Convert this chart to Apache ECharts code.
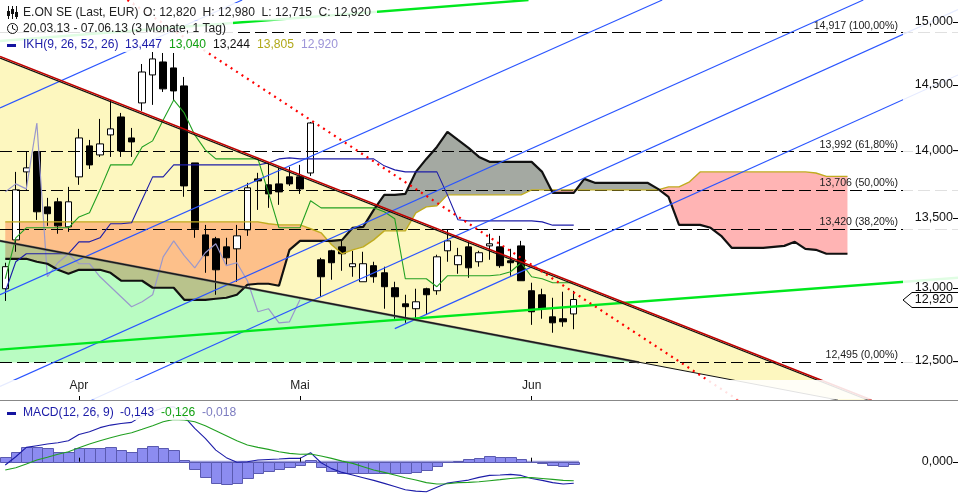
<!DOCTYPE html>
<html><head><meta charset="utf-8">
<style>html,body{margin:0;padding:0;background:#fff}#c{width:958px;height:500px}</style>
<script src="https://cdn.jsdelivr.net/npm/echarts@6/dist/echarts.min.js"></script>
</head><body><div id="c"></div>
<script>
// ---- data ----
const opens  = [12995,13341,13838,13988,13580,13617,13435,13801,14033,13965,14116,14253,14093,14361,14579,14681,14634,14493,13905,13377,13349,13291,13277,13413,13786,13742,13749,13801,13801,13830,13199,13263,13291,13150,13044,13157,13107,13002,12890,12856,12995,12981,13263,13164,13291,13185,13298,13291,13192,13298,12981,12953,12800,12787,12820];
const closes = [13150,13705,13868,13544,13530,13442,13617,14093,13890,14048,14162,13995,14063,14602,14705,14470,14454,13734,13421,13228,13128,13213,13370,13720,13771,13675,13690,13749,13712,14207,13079,13178,13242,13171,13171,13079,13009,12939,12870,12904,12953,13220,13334,13228,13142,13249,13313,13157,13178,13051,12835,12856,12759,12766,12920];
const lows   = [12910,13256,13705,13485,13442,13385,13399,13742,13860,13950,13950,13950,13950,14300,14346,14446,14384,13654,13356,13107,12953,13164,13044,13370,13558,13573,13595,13734,13675,13808,12939,13058,13121,13079,13044,13037,12856,12787,12759,12780,12814,12953,13185,13100,13072,13150,13199,13142,13086,13051,12745,12787,12691,12732,12715];
const highs  = [13178,13838,13988,13988,13646,13646,13727,14162,14078,14238,14384,14284,14169,14665,14760,14752,14752,14563,13905,13449,13363,13356,13449,13757,13831,13905,13868,13875,13890,14215,13213,13270,13341,13263,13256,13185,13150,13044,12953,12995,13002,13235,13413,13284,13327,13263,13385,13370,13277,13334,13037,12995,12932,12974,12980];
const tenkan = [12974,13185,13242,13242,13242,13242,13242,13327,13327,13356,13457,13457,13464,13632,13801,13801,13890,13890,13890,13890,13890,13890,13890,13890,13890,13905,13935,13943,13935,13935,13935,13935,13935,13935,13935,13935,13883,13853,13838,13838,13838,13838,13668,13486,13478,13478,13478,13478,13478,13478,13478,13471,13447,13447,13447];
const kijun  = [13065,13356,13428,13428,13428,13428,13428,13507,13537,13705,13890,13890,13890,14025,14071,14230,14384,14284,14116,14003,13935,13935,13935,13935,13935,13683,13428,13428,13428,13625,13573,13573,13573,13573,13573,13573,13544,13493,13065,13065,13065,13009,13086,13086,13086,13086,13086,13093,13114,13178,13079,13065,13037,13037,13037];
const chikou = [13690,13749,13712,14207,13079,13178,13242,13171,13171,13079,13009,12939,12870,12904,12953,13220,13334,13228,13142,13249,13313,13157,13178,13051,12835,12856,12759,12766,12920];
const senkouA = [13471,13471,13471,13471,13471,13471,13471,13471,13471,13471,13471,13471,13471,13471,13471,13471,13471,13471,13471,13471,13471,13471,13471,13471,13471,13457,13449,13449,13449,13421,13392,13306,13242,13270,13291,13341,13406,13406,13406,13537,13580,13588,13668,13668,13668,13668,13668,13668,13668,13668,13705,13705,13705,13705,13705,13705,13705,13705,13705,13705,13705,13705,13705,13727,13727,13764,13838,13838,13838,13838,13838,13838,13838,13838,13838,13838,13838,13830,13805,13805,13805];
const senkouB = [13206,13206,13206,13185,13171,13128,13100,13128,13128,13128,13107,13051,13051,13051,13002,13002,13002,12918,12918,12918,12925,12932,12953,13023,13030,13030,13016,13270,13334,13334,13334,13334,13341,13428,13435,13558,13668,13668,13675,13838,13935,14025,14139,14078,14018,13950,13913,13913,13913,13913,13913,13838,13683,13683,13683,13786,13757,13757,13757,13757,13757,13757,13712,13654,13449,13449,13449,13428,13370,13284,13284,13284,13284,13291,13298,13327,13277,13270,13242,13242,13242];
const macdLine = [-.022,.033,.095,.106,.117,.126,.139,.181,.199,.226,.243,.254,.261,.305,.332,.358,.365,.299,.221,.155,.077,.027,-.004,0,.011,.015,.018,.022,.022,.060,-.007,-.046,-.071,-.088,-.106,-.124,-.144,-.164,-.186,-.195,-.199,-.170,-.142,-.131,-.122,-.104,-.091,-.088,-.084,-.091,-.111,-.124,-.139,-.148,-.143];
const signalLine = [-.055,-.040,-.015,.011,.029,.049,.066,.093,.117,.139,.159,.177,.192,.215,.239,.265,.281,.277,.265,.239,.206,.173,.139,.111,.095,.082,.066,.055,.049,.051,.038,.022,.004,-.011,-.033,-.055,-.071,-.088,-.106,-.122,-.139,-.148,-.146,-.139,-.137,-.133,-.126,-.119,-.111,-.106,-.106,-.111,-.117,-.124,-.126];
const macdHist = [.033,.066,.100,.095,.088,.066,.066,.088,.088,.088,.095,.075,.066,.088,.102,.088,.075,.011,-.049,-.104,-.144,-.150,-.144,-.111,-.077,-.064,-.049,-.035,-.024,.011,-.038,-.064,-.073,-.077,-.077,-.077,-.077,-.077,-.077,-.071,-.058,-.031,-.002,.007,.015,.022,.035,.029,.029,.015,-.004,-.011,-.024,-.031,-.018];
const priceTicks = [12500,13000,13500,14000,14500,15000];
const monthIdx = [7,28,50];
const monthLabels = ['Apr','Mai','Jun'];
const fibLevels = [14917,13992,13706,13420,12495];
const fibPercents = ['100,00%','61,80%','50,00%','38,20%','0,00%'];
const lastPrice = 12920;
// trend lines as [bar index, price] pairs
const resistance = [[-0.5,14725],[82.3,12240]];
const resistanceShadow = [[-0.5,14712],[82.3,12230]];
const support = [[-0.5,13334],[79.1,12240]];
const supportUpper = [[-0.5,13334],[60.2,12490]];
const greenLow = [[-0.5,12576],[90.5,13072]];
const greenHigh = [[-0.5,14848],[49.7,15178]];
const redDotted = [[11.6,15178],[69.6,12240]];
const blueChannel = [
  [[-0.5,14323],[22.5,15178]],
  [[-0.5,12953],[62.4,15178]],
  [[-0.5,12330],[81.5,15178]],
  [[8.2,12240],[90.5,15101]],
  [[37,12719],[90.5,14579]]
];
const yellowZone = [[-0.5,14725],[82.3,12240],[79.1,12240],[-0.5,13334]];
const greenZone = [[-0.5,13334],[60.2,12490],[-0.5,12490]];

const header1 = [['E.ON SE (Last, EUR)',23],['O: 12,820',143],['H: 12,980',202.5],['L: 12,715',261.5],['C: 12,920',318.5]];
const header3 = [['IKH(9, 26, 52, 26)',23,'#1c1ca8'],['13,447',125,'#1c1ca8'],['13,040',169,'#12a012'],['13,244',213,'#111'],['13,805',257,'#b0a818'],['12,920',301,'#9c94d8']];
const header4 = [['MACD(12, 26, 9)',23,'#1c1ca8'],['-0,143',120,'#1c1ca8'],['-0,126',161,'#12a012'],['-0,018',202,'#7c7cc0']];

// ---- helpers ----
const idx = a => a.map((v,i)=>[i,v]);
const fontF = '"Liberation Sans",Arial,sans-serif';
const fmt = v => (v/1000).toFixed(3).replace('.',',');
function line(data,color,width,extra){
  return Object.assign({type:'line',data,showSymbol:false,symbol:'none',silent:true,animation:false,
    xAxisIndex:0,yAxisIndex:0,clip:true,lineStyle:{color,width},z:3},extra||{});
}
// keep the part of a pixel polygon on one side of the resistance line
function clipSide(pts,a,b,keepBelow){
  const s=p=>{const d=(b[0]-a[0])*(p[1]-a[1])-(b[1]-a[1])*(p[0]-a[0]);return keepBelow?d:-d;};
  const out=[];
  for(let i=0;i<pts.length;i++){
    const p=pts[i],q=pts[(i+1)%pts.length],sp=s(p),sq=s(q);
    if(sp>=0)out.push(p);
    if((sp>=0)!==(sq>=0)){const t=sp/(sp-sq);out.push([p[0]+(q[0]-p[0])*t,p[1]+(q[1]-p[1])*t]);}
  }
  return out;
}
function poly(points,fill,blend,side){
  return {type:'custom',xAxisIndex:0,yAxisIndex:0,silent:true,animation:false,z:1,clip:true,
    blendMode:blend||'source-over',
    data:[[0]],encode:{x:0},
    renderItem:(p,api)=>{
      let pts=points.map(q=>api.coord(q));
      if(side)pts=clipSide(pts,api.coord(resistance[0]),api.coord(resistance[1]),side==='below');
      return {type:'polygon',shape:{points:pts},style:{fill}};
    }};
}
function axisMarks(values,xAxisIndex,yAxisIndex){
  return {type:'custom',xAxisIndex,yAxisIndex,silent:true,animation:false,z:6,clip:false,
    data:values.map(v=>[90.5,v]),encode:{x:0,y:1},
    renderItem:(p,api)=>{
      const y=Math.round(api.coord([90.5,api.value(1)])[1])+.5;
      return {type:'line',shape:{x1:953,y1:y,x2:958,y2:y},style:{stroke:'#000',lineWidth:1}};
    }};
}
// cloud runs between senkou spans
const runs=[];
(function(){
  let cur=null;
  for(let i=0;i<senkouA.length;i++){
    const up=senkouA[i]>=senkouB[i];
    if(!cur){cur={up,a:[],b:[]};}
    if(cur.up!==up){
      const d0=senkouA[i-1]-senkouB[i-1],d1=senkouA[i]-senkouB[i],t=d0/(d0-d1);
      const v=senkouA[i-1]+(senkouA[i]-senkouA[i-1])*t,x=i-1+t;
      cur.a.push([x,v]);cur.b.push([x,v]);runs.push(cur);
      cur={up,a:[[x,v]],b:[[x,v]]};
    }
    cur.a.push([i,senkouA[i]]);cur.b.push([i,senkouB[i]]);
  }
  runs.push(cur);
})();

const candle = opens.map((o,i)=>[i,o,closes[i],lows[i],highs[i]]);
const series=[];
series.push(poly(yellowZone,'#fdf7bf'));
series.push(poly(greenZone,'#b9fcc2'));
runs.forEach(r=>{
  const pts=r.a.concat(r.b.slice().reverse());
  if(r.up){
    series.push(poly(pts,'#ffb4b4','multiply','above'));
    series.push(poly(pts,'#ffc6b8','multiply','below'));
  }else{
    series.push(poly(pts,'#a4a9a2','multiply','above'));
    series.push(poly(pts,'#bfbfad','multiply','below'));
  }
});
// candles
series.push({type:'candlestick',xAxisIndex:0,yAxisIndex:0,silent:true,animation:false,z:2,barWidth:7,
  data:candle,
  itemStyle:{color:'#fff',color0:'#000',borderColor:'#000',borderColor0:'#000',borderWidth:1}});
// ichimoku
series.push(line(idx(chikou),'#9a98cc',1.2));
series.push(line(idx(senkouA),'#c0ac20',1.4));
series.push(line(idx(senkouB),'#111',2.2));
series.push(line(idx(tenkan),'#1c1ca8',1.1));
series.push(line(idx(kijun),'#22a022',1.1));
// fibonacci levels
series.push({type:'custom',xAxisIndex:0,yAxisIndex:0,silent:true,animation:false,z:3,
  data:fibLevels.map((v,k)=>[k,v]),encode:{x:0,y:1},
  renderItem:(p,api)=>{
    const v=api.value(1),k=api.value(0);
    const a=api.coord([-0.5,v]),b=api.coord([90.5,v]),c=api.coord([84.7,v]);
    return {type:'group',children:[
      {type:'line',shape:{x1:a[0],y1:Math.round(a[1])+.5,x2:b[0],y2:Math.round(b[1])+.5},style:{stroke:'#000',lineWidth:1,lineDash:[12,5]}},
      {type:'text',style:{text:fmt(v)+' ('+fibPercents[k]+')',x:c[0]+1,y:c[1]-1,align:'right',verticalAlign:'bottom',font:'10.6px '+fontF,fill:'#222'}}
    ]};
  }});
// trend lines
blueChannel.forEach(l=>series.push(line(l,'#2a55ff',1.2)));
series.push(line(greenLow,'#00e81e',2.4));
series.push(line(greenHigh,'#00e81e',2.4));
series.push(line(supportUpper,'#555',2.2));
series.push(line(support,'#111',1));
series.push(line(resistanceShadow,'#111',1.2));
series.push(line(resistance,'#c00000',1.6));
series.push(line(redDotted,'#ff0000',2,{lineStyle:{color:'#ff0000',width:2.2,type:[2,4.5]}}));
// value-axis tick marks
series.push(axisMarks(priceTicks,0,0));
series.push(axisMarks([0],1,1));
// last price tag
series.push({type:'custom',xAxisIndex:0,yAxisIndex:0,silent:true,animation:false,z:6,clip:false,
  data:[[90.5,lastPrice]],encode:{x:0,y:1},
  renderItem:(p,api)=>{
    const c=api.coord([90.5,api.value(1)]),y=c[1]+0.5;
    return {type:'group',children:[
      {type:'polygon',shape:{points:[[903,y],[912,y-7.5],[960,y-7.5],[960,y+7.5],[912,y+7.5]]},style:{fill:'#fff',stroke:'#000',lineWidth:1}},
      {type:'text',style:{text:fmt(api.value(1)),x:953,y:y,align:'right',verticalAlign:'middle',font:'12.5px '+fontF,fill:'#111'}}
    ]};
  }});
// macd
series.push({type:'line',xAxisIndex:1,yAxisIndex:1,data:[[-0.5,0],[54.5,0]],symbol:'none',silent:true,animation:false,lineStyle:{color:'#9c9cd8',width:2},z:1});
series.push({type:'custom',xAxisIndex:1,yAxisIndex:1,silent:true,animation:false,z:2,clip:true,
  data:idx(macdHist),encode:{x:0,y:1},
  renderItem:(p,api)=>{
    const i=api.value(0),v=api.value(1);
    const a=api.coord([i-.5,v]),b=api.coord([i+.5,0]);
    const x0=Math.round(a[0])+.5,x1=Math.round(b[0])+.5,y0=Math.round(a[1])+.5,y1=Math.round(b[1])+.5;
    return {type:'rect',shape:{x:x0,y:Math.min(y0,y1),width:x1-x0,height:Math.abs(y1-y0)},
      style:{fill:'#8c8cf0',stroke:'#5a5ab0',lineWidth:1}};
  }});
series.push({type:'line',xAxisIndex:1,yAxisIndex:1,data:idx(macdLine),symbol:'none',silent:true,animation:false,lineStyle:{color:'#1c1ca8',width:1.1},z:3});
series.push({type:'line',xAxisIndex:1,yAxisIndex:1,data:idx(signalLine),symbol:'none',silent:true,animation:false,lineStyle:{color:'#22a022',width:1.1},z:3});

// overlay + header
const g=[];
const veil=(x,y,w,h,o)=>g.push({type:'rect',z:4,silent:true,shape:{x,y,width:w,height:h},style:{fill:'rgba(255,255,255,'+o+')'}});
veil(903,0,55,380,.88);
veil(0,380,958,19.5,.88);
veil(0,3,377,17.5,.88);
veil(0,20.5,233,16.5,.88);
veil(0,37,347,15,.88);
veil(0,405,245,15,.88);
const txt=(text,x,y,fill)=>g.push({type:'text',z:7,silent:true,style:{text,x,y,fill,font:'12.1px '+fontF,verticalAlign:'middle'}});
header1.forEach(h=>txt(h[0],h[1],12.5,'#222'));
txt('20.03.13 - 07.06.13 (3 Monate, 1 Tag)',23,29,'#222');
header3.forEach(h=>txt(h[0],h[1],45,h[2]));
header4.forEach(h=>txt(h[0],h[1],413,h[2]));
const stroke=(shape,type)=>g.push({type:type||'line',z:7,silent:true,shape,style:{stroke:'#111',lineWidth:1,fill:'none'}});
// candle icon
[[8,6,19],[12,6,19],[16,6,19]].forEach(a=>stroke({x1:a[0]+.5,y1:a[1],x2:a[0]+.5,y2:a[2]}));
[[7,11,3,5],[11,9,3,5],[15,12,3,5]].forEach(a=>g.push({type:'rect',z:7,silent:true,shape:{x:a[0],y:a[1],width:a[2],height:a[3]},style:{fill:'#111'}}));
// clock icon
stroke({cx:12.5,cy:28.5,r:5},'circle');
stroke({x1:12.5,y1:28.5,x2:12.5,y2:25});
stroke({x1:12.5,y1:28.5,x2:15.5,y2:30});
g.push({type:'rect',z:7,silent:true,shape:{x:7,y:44,width:9,height:3},style:{fill:'#1414a0'}});
g.push({type:'rect',z:7,silent:true,shape:{x:7,y:412,width:9,height:3},style:{fill:'#1414a0'}});

const chart=echarts.init(document.getElementById('c'),null,{renderer:'canvas',width:958,height:500});
chart.setOption({
  animation:false,backgroundColor:'#fff',
  grid:[{left:0,top:0,width:960,height:400},{left:0,top:400,width:960,height:100}],
  xAxis:[
   {type:'value',gridIndex:0,min:-0.5,max:90.5,zlevel:1,splitLine:{show:false},
    axisLine:{onZero:false,show:true,lineStyle:{color:'#888',width:1}},
    axisTick:{show:true,inside:true,length:4,customValues:monthIdx,lineStyle:{color:'#000'}},
    axisLabel:{inside:true,margin:8,customValues:monthIdx,color:'#222',fontFamily:fontF,fontSize:12,
      formatter:v=>monthLabels[monthIdx.indexOf(v)]||''}},
   {type:'value',gridIndex:1,min:-0.5,max:90.5,zlevel:1,splitLine:{show:false},
    axisLine:{show:false},
    axisTick:{show:true,inside:true,length:4,customValues:monthIdx,lineStyle:{color:'#000'}},
    axisLabel:{show:false}}
  ],
  yAxis:[
   {type:'log',logBase:10,gridIndex:0,position:'right',min:12240,max:15178.6,zlevel:1,splitLine:{show:false},minorTick:{show:false},
    axisLine:{show:false},
    axisTick:{show:false},
    axisLabel:{inside:true,margin:5,customValues:priceTicks,color:'#111',fontFamily:fontF,fontSize:12.5,formatter:fmt}},
   {type:'value',gridIndex:1,position:'right',min:-0.2542,max:0.4095,zlevel:1,splitLine:{show:false},
    axisLine:{show:false},
    axisTick:{show:false},
    axisLabel:{inside:true,margin:5,customValues:[0],color:'#111',fontFamily:fontF,fontSize:12.5,formatter:v=>fmt(v)}}
  ],
  series,
  graphic:g
});
</script></body></html>
